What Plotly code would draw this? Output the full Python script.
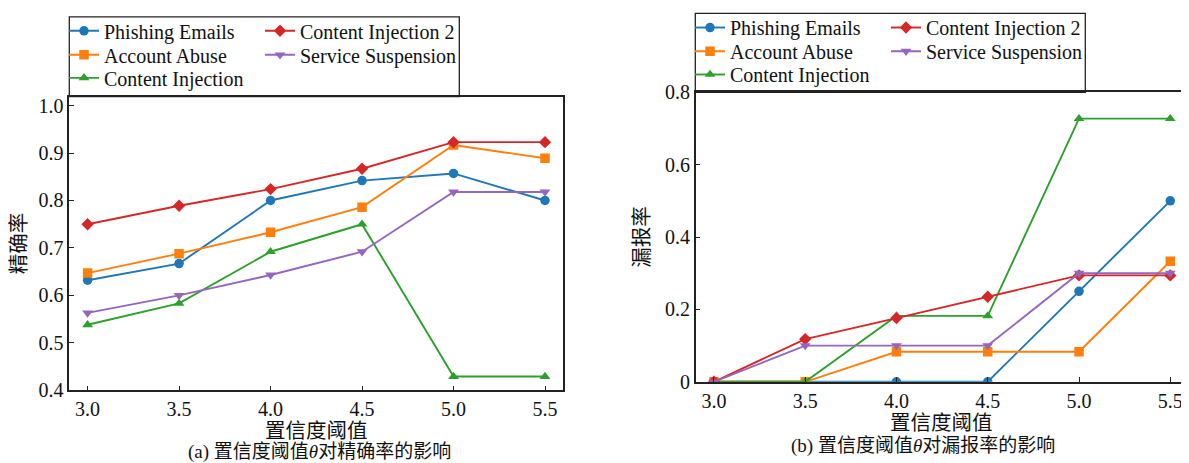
import plotly.graph_objects as go

# page has an 8px body margin, so the figure is sized to fill the rest of the window
OFF = 8
W, H = 1189 - OFF, 463 - OFF

thresholds = [3.0, 3.5, 4.0, 4.5, 5.0, 5.5]
series_names = ["Phishing Emails", "Account Abuse", "Content Injection",
                "Content Injection 2", "Service Suspension"]
colors = ["#1f77b4", "#ff7f0e", "#2ca02c", "#d62728", "#9467bd"]
symbols = ["circle", "square", "triangle-up", "diamond", "triangle-down"]

precision_phishing = [0.632, 0.667, 0.800, 0.842, 0.857, 0.800]
precision_account = [0.647, 0.688, 0.733, 0.786, 0.917, 0.889]
precision_content = [0.538, 0.583, 0.692, 0.750, 0.429, 0.429]
precision_content2 = [0.750, 0.789, 0.824, 0.867, 0.923, 0.923]
precision_service = [0.563, 0.600, 0.643, 0.692, 0.818, 0.818]

miss_phishing = [0.0, 0.0, 0.0, 0.0, 0.250, 0.500]
miss_account = [0.0, 0.0, 0.083, 0.083, 0.083, 0.333]
miss_content = [0.0, 0.0, 0.182, 0.182, 0.727, 0.727]
miss_content2 = [0.0, 0.118, 0.176, 0.235, 0.294, 0.294]
miss_service = [0.0, 0.100, 0.100, 0.100, 0.300, 0.300]

x_ticks = [3.0, 3.5, 4.0, 4.5, 5.0, 5.5]
x_ticktext = ["3.0", "3.5", "4.0", "4.5", "5.0", "5.5"]
left_yticks = [0.4, 0.5, 0.6, 0.7, 0.8, 0.9, 1.0]
left_yticktext = ["0.4", "0.5", "0.6", "0.7", "0.8", "0.9", "1.0"]
right_yticks = [0.0, 0.2, 0.4, 0.6, 0.8]
right_yticktext = ["0", "0.2", "0.4", "0.6", "0.8"]

xlabel = "置信度阈值"
left_ylabel = "精确率"
right_ylabel = "漏报率"
caption_a = "(a) 置信度阈值<i>θ</i>对精确率的影响"
caption_b = "(b) 置信度阈值<i>θ</i>对漏报率的影响"

precision = [precision_phishing, precision_account, precision_content,
             precision_content2, precision_service]
miss = [miss_phishing, miss_account, miss_content, miss_content2, miss_service]

FONT = "Liberation Serif, 'Times New Roman', 'Noto Sans CJK SC', serif"

def px(x):
    return (x - OFF) / W

def py(y):
    return 1 - (y - OFF) / H

fig = go.Figure()

# legend cell layout (window pixel positions of each entry: column x, row centre y)
left_cells = [(64, 25.0), (64, 49.3), (64, 72.7), (260, 25.0), (260, 49.3)]
right_cells = [(690, 21.7), (690, 45.7), (690, 69.3), (886, 21.7), (886, 45.7)]

legend_layouts = {}
for panel, (data, xa, ya, cells) in enumerate([
        (precision, "x", "y", left_cells),
        (miss, "x2", "y2", right_cells)]):
    for i, name in enumerate(series_names):
        idx = panel * 5 + i + 1
        lname = "legend" if idx == 1 else f"legend{idx}"
        fig.add_trace(go.Scatter(
            x=thresholds, y=data[i], name=name, mode="lines+markers",
            line=dict(color=colors[i], width=1.9),
            marker=dict(symbol=symbols[i], size=9.5,
                        color=colors[i], line=dict(width=0)),
            xaxis=xa, yaxis=ya, legend=lname, showlegend=True))
        cx, cy = cells[i]
        legend_layouts[lname] = dict(
            x=px(cx), y=py(cy), xanchor="left", yanchor="middle",
            bgcolor="rgba(0,0,0,0)", borderwidth=0,
            font=dict(family=FONT, size=20, color="#111"),
            itemsizing="trace")

axis_common = dict(
    showline=True, linecolor="#222", linewidth=1.5, mirror=True,
    ticks="inside", ticklen=5, tickwidth=1.2, tickcolor="#222",
    showgrid=False, zeroline=False, automargin=False,
    tickfont=dict(family=FONT, size=20, color="#111"),
)
title_font = dict(family=FONT, size=20.5, color="#111")

fig.update_layout(
    width=W, height=H, template="none",
    paper_bgcolor="white", plot_bgcolor="white",
    margin=dict(l=0, r=0, t=0, b=0),
    showlegend=True,
    xaxis=dict(domain=[px(69.3), px(563.3)], range=[2.9, 5.6], anchor="y",
               tickvals=x_ticks, ticktext=x_ticktext,
               title=dict(text=xlabel, font=title_font, standoff=2),
               **axis_common),
    yaxis=dict(domain=[py(389.3), py(91.7)], range=[0.4, 1.019], anchor="x",
               tickvals=left_yticks, ticktext=left_yticktext,
               title=dict(text=left_ylabel, font=title_font, standoff=8),
               **axis_common),
    xaxis2=dict(domain=[px(695.7), px(1186.7)], range=[2.9, 5.59], anchor="y2",
                tickvals=x_ticks, ticktext=x_ticktext,
                title=dict(text=xlabel, font=title_font, standoff=0),
                **axis_common),
    yaxis2=dict(domain=[py(380.7), py(87.3)], range=[0, 0.8], anchor="x2",
                tickvals=right_yticks, ticktext=right_yticktext,
                title=dict(text=right_ylabel, font=title_font, standoff=10),
                **axis_common),
    **legend_layouts,
)

# legend frames
fig.add_shape(type="rect", xref="paper", yref="paper",
              x0=px(69.3), x1=px(459.3), y0=py(91.7), y1=py(11.0),
              line=dict(color="#222", width=1.3), fillcolor="rgba(0,0,0,0)", layer="above")
fig.add_shape(type="rect", xref="paper", yref="paper",
              x0=px(695.3), x1=px(1085.3), y0=py(87.3), y1=py(7.3),
              line=dict(color="#222", width=1.3), fillcolor="rgba(0,0,0,0)", layer="above")

# captions
fig.add_annotation(text=caption_a, x=px(319), y=py(452), xref="paper", yref="paper",
                   xanchor="center", yanchor="middle", showarrow=False,
                   font=dict(family=FONT, size=19, color="#111"))
fig.add_annotation(text=caption_b, x=px(923), y=py(446), xref="paper", yref="paper",
                   xanchor="center", yanchor="middle", showarrow=False,
                   font=dict(family=FONT, size=19, color="#111"))

fig.write_html("out.html")
